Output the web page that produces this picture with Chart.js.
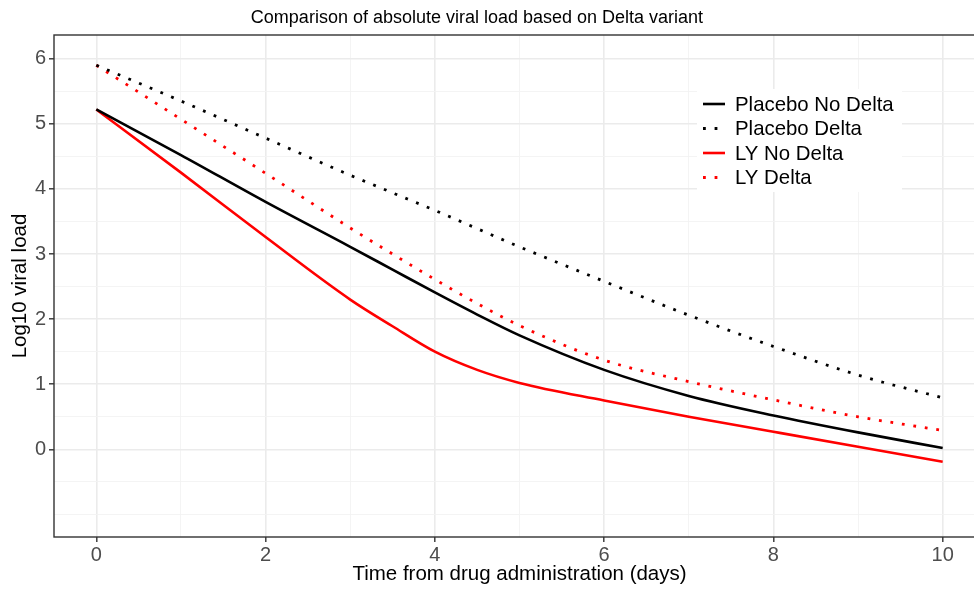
<!DOCTYPE html>
<html>
<head>
<meta charset="utf-8">
<script src="https://cdn.jsdelivr.net/npm/chart.js@4"></script>
<style>
  html, body { margin: 0; padding: 0; background: #fff; overflow: hidden; }
  #wrap { position: relative; width: 974px; height: 592px; overflow: hidden; }
  #box { position: absolute; left: 0; top: 0; width: 985px; height: 592px; }
  #title {
    position: absolute; left: 0; top: 8px; width: 954px;
    text-align: center; font: 18px "Liberation Sans", Arial, sans-serif;
    line-height: 18px; color: #000;
  }
</style>
</head>
<body>
<div id="wrap">
  <div id="box"><canvas id="viralChart"></canvas></div>
  <div id="title">Comparison of absolute viral load based on Delta variant</div>
</div>
<script>
// Values
const days = [0, 1, 2, 3, 3.5, 4, 4.5, 5, 6, 7, 8, 9, 10];
const placeboNoDelta = [5.22, 4.52, 3.80, 3.11, 2.76, 2.41, 2.07, 1.75, 1.22, 0.82, 0.52, 0.26, 0.02];
const placeboDelta   = [5.90, 5.35, 4.78, 4.21, 3.94, 3.67, 3.39, 3.11, 2.58, 2.06, 1.58, 1.14, 0.79];
const lyNoDelta      = [5.22, 4.25, 3.26, 2.30, 1.89, 1.50, 1.22, 1.02, 0.75, 0.50, 0.27, 0.04, -0.19];
const lyDelta        = [5.90, 5.07, 4.24, 3.40, 3.00, 2.61, 2.24, 1.90, 1.37, 1.04, 0.76, 0.50, 0.29];

const xTicks = [0, 1, 2, 3, 4, 5, 6, 7, 8, 9, 10];          // odd ones = minor grid
const yTicks = [-1, -0.5, 0, 0.5, 1, 1.5, 2, 2.5, 3, 3.5, 4, 4.5, 5, 5.5, 6]; // labelled: 0..6

const FONT = "'Liberation Sans', Arial, sans-serif";
const DOTS = [2.8, 8.8];

function points(ys) {
  return days.map((d, i) => ({ x: d, y: ys[i] }));
}

const isMajorX = v => v % 2 === 0;
const isMajorY = v => Number.isInteger(v) && v >= 0;

// legend drawn inside the panel, like the ggplot one
const insideLegend = {
  id: "insideLegend",
  afterDatasetsDraw(chart) {
    const ctx = chart.ctx;
    ctx.save();
    ctx.fillStyle = "#ffffff";
    ctx.fillRect(697, 89, 205, 103);
    chart.data.datasets.forEach((ds, i) => {
      const y = 104 + i * 24.5;
      ctx.beginPath();
      ctx.strokeStyle = ds.borderColor;
      ctx.lineWidth = ds.borderWidth;
      ctx.lineCap = "butt";
      ctx.setLineDash(ds.borderDash || []);
      ctx.moveTo(703, y);
      ctx.lineTo(725, y);
      ctx.stroke();
      ctx.setLineDash([]);
      ctx.fillStyle = "#000";
      ctx.font = "20.4px " + FONT;
      ctx.textBaseline = "middle";
      ctx.fillText(ds.label, 735, y + 1);
    });
    ctx.restore();
  },
  afterDraw(chart) {
    const { ctx, chartArea: a } = chart;
    ctx.save();
    ctx.strokeStyle = "#333333";
    ctx.lineWidth = 1.4;
    ctx.strokeRect(a.left, a.top, a.right - a.left, a.bottom - a.top);
    ctx.restore();
  }
};

const ctx = document.getElementById("viralChart").getContext("2d");

new Chart(ctx, {
  type: "line",
  data: {
    datasets: [
      { label: "Placebo No Delta", data: points(placeboNoDelta), borderColor: "#000000", borderWidth: 2.6 },
      { label: "Placebo Delta", data: points(placeboDelta), borderColor: "#000000", borderWidth: 2.8, borderDash: DOTS },
      { label: "LY No Delta", data: points(lyNoDelta), borderColor: "#ff0000", borderWidth: 2.6 },
      { label: "LY Delta", data: points(lyDelta), borderColor: "#ff0000", borderWidth: 2.8, borderDash: DOTS }
    ]
  },
  options: {
    responsive: true,
    maintainAspectRatio: false,
    animation: false,
    layout: { padding: { top: 35, left: 0, right: 0, bottom: 0 } },
    elements: {
      point: { radius: 0 },
      line: { cubicInterpolationMode: "monotone", borderCapStyle: "butt" }
    },
    scales: {
      x: {
        type: "linear",
        min: -0.5,
        max: 10.5,
        afterBuildTicks: s => { s.ticks = xTicks.map(v => ({ value: v })); },
        afterFit: s => { s.height = 55; },
        border: { display: false },
        grid: {
          color: c => isMajorX(c.tick.value) ? "#ebebeb" : "#f3f3f3",
          lineWidth: c => isMajorX(c.tick.value) ? 1.6 : 0.9,
          tickColor: c => isMajorX(c.tick.value) ? "#333333" : "rgba(0,0,0,0)",
          tickLength: 5,
          tickWidth: 1.4
        },
        ticks: {
          autoSkip: false,
          maxRotation: 0,
          padding: 1,
          color: "#4d4d4d",
          font: { family: FONT, size: 20 },
          callback: v => isMajorX(v) ? String(v) : ""
        },
        title: {
          display: true,
          text: "Time from drug administration (days)",
          color: "#000",
          font: { family: FONT, size: 20.5 },
          padding: { top: 0, bottom: 5 }
        }
      },
      y: {
        type: "linear",
        min: -1.347,
        max: 6.364,
        afterBuildTicks: s => { s.ticks = yTicks.map(v => ({ value: v })); },
        afterFit: s => { s.width = 54; },
        border: { display: false },
        grid: {
          color: c => isMajorY(c.tick.value) ? "#ebebeb" : "#f3f3f3",
          lineWidth: c => isMajorY(c.tick.value) ? 1.6 : 0.9,
          tickColor: c => isMajorY(c.tick.value) ? "#333333" : "rgba(0,0,0,0)",
          tickLength: 5,
          tickWidth: 1.4
        },
        ticks: {
          autoSkip: false,
          padding: 3,
          color: "#4d4d4d",
          font: { family: FONT, size: 20 },
          callback: v => isMajorY(v) ? String(v) : ""
        },
        title: {
          display: true,
          text: "Log10 viral load",
          color: "#000",
          font: { family: FONT, size: 20.5 },
          padding: { top: 8, bottom: 0 }
        }
      }
    },
    plugins: {
      legend: { display: false },
      tooltip: { enabled: false }
    }
  },
  plugins: [insideLegend]
});
</script>
</body>
</html>
